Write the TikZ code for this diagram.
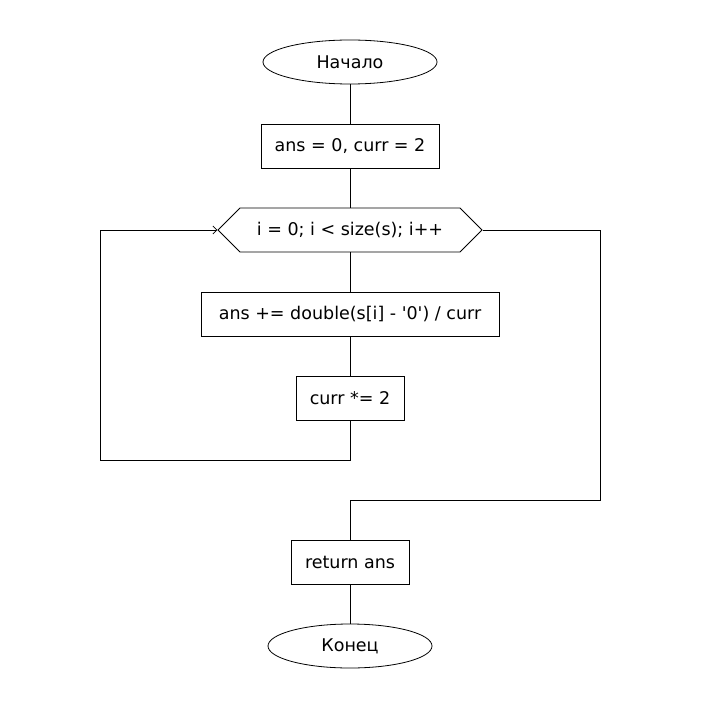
\documentclass[tikz,border=0pt]{standalone}
\usepackage{fontspec}
\setmainfont{DejaVu Sans}
\usetikzlibrary{shapes.geometric,shapes.symbols,arrows.meta}

\tikzset{
  terminal/.style={draw, ellipse, minimum width=174pt, minimum height=44pt, inner sep=0pt},
  action/.style={draw, rectangle, minimum height=44pt, inner sep=0pt},
  loophead/.style={draw, signal, signal to=west and east, signal pointer angle=90,
    minimum width=264pt, minimum height=44pt, inner sep=0pt},
  flow/.style={line width=0.8pt},
}

\begin{document}
\begin{tikzpicture}[x=1pt, y=-1pt, font=\fontsize{17.5}{21}\selectfont, every node/.append style={line width=0.8pt}]
  \useasboundingbox[fill=white] (0,0) rectangle (700,708);

  \node[terminal] (start) at (350,62) {Начало};
  \node[action, minimum width=178pt] (init) at (350,146) {ans = 0, curr = 2};
  \node[loophead] (loop) at (350,230) {i = 0; i < size(s); i++};
  \node[action, minimum width=298pt] (acc) at (350,314) {ans += double(s[i] - \textquotesingle0\textquotesingle) / curr};
  \node[action, minimum width=108pt] (mul) at (350,398) {curr *= 2};
  \node[action, minimum width=118pt] (ret) at (350,562) {return ans};
  \node[terminal, minimum width=164pt] (stop) at (350,646) {Конец};

  % straight links
  \draw[flow] (start) -- (init);
  \draw[flow] (init.south) -- (init.south |- loop.north);
  \draw[flow] (acc.north) -- (acc.north |- loop.south);
  \draw[flow] (acc) -- (mul);
  \draw[flow] (ret) -- (stop);

  % back edge of the loop
  \coordinate (back) at (100,460);
  \draw[flow, -{Straight Barb[length=4pt, width=8pt]}] (mul.south) |- (back) |- (loop.west);

  % exit of the loop
  \coordinate (out) at (600,500);
  \draw[flow] (loop.east) -| (out) -| (ret.north);
\end{tikzpicture}
\end{document}
